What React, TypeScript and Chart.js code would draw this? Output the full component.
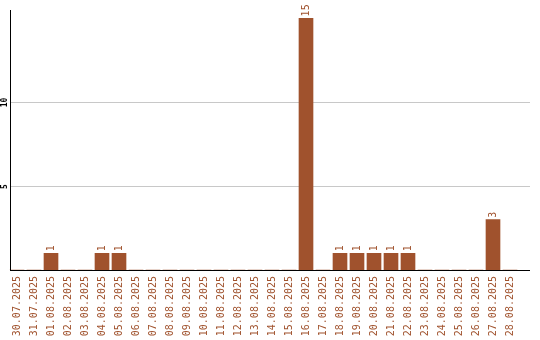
import React, { useEffect, useRef } from "react";
import { Chart, registerables } from "chart.js";

Chart.register(...registerables);

const categories: string[] = [
  "30.07.2025", "31.07.2025", "01.08.2025", "02.08.2025", "03.08.2025",
  "04.08.2025", "05.08.2025", "06.08.2025", "07.08.2025", "08.08.2025",
  "09.08.2025", "10.08.2025", "11.08.2025", "12.08.2025", "13.08.2025",
  "14.08.2025", "15.08.2025", "16.08.2025", "17.08.2025", "18.08.2025",
  "19.08.2025", "20.08.2025", "21.08.2025", "22.08.2025", "23.08.2025",
  "24.08.2025", "25.08.2025", "26.08.2025", "27.08.2025", "28.08.2025",
];
const counts: number[] = [
  0, 0, 1, 0, 0, 1, 1, 0, 0, 0,
  0, 0, 0, 0, 0, 0, 0, 15, 0, 1,
  1, 1, 1, 1, 0, 0, 0, 0, 3, 0,
];
const yTicks: number[] = [5, 10];

const BROWN = "#a0522d";
const MONO = "'DejaVu Sans Mono', monospace";

const decorPlugin = {
  id: "decor",
  beforeDatasetsDraw(chart: any) {
    const ctx = chart.ctx;
    const y = chart.scales.y;
    ctx.save();
    ctx.strokeStyle = "#c8c8c8";
    ctx.lineWidth = 1;
    for (const t of yTicks) {
      const py = Math.round(y.getPixelForValue(t)) + 0.5;
      ctx.beginPath();
      ctx.moveTo(10, py);
      ctx.lineTo(530, py);
      ctx.stroke();
      ctx.save();
      ctx.translate(4.5, py);
      ctx.rotate(-Math.PI / 2);
      ctx.fillStyle = "#000";
      ctx.font = "bold 8px " + MONO;
      ctx.textAlign = "center";
      ctx.textBaseline = "middle";
      ctx.fillText(String(t), 0, 0);
      ctx.restore();
    }
    ctx.restore();
  },
  afterDatasetsDraw(chart: any) {
    const ctx = chart.ctx;
    const y = chart.scales.y;
    const area = chart.chartArea;
    const zeroY = Math.round(y.getPixelForValue(0)) + 0.5;
    ctx.save();
    ctx.strokeStyle = "#000";
    ctx.lineWidth = 1;
    ctx.beginPath();
    ctx.moveTo(10.5, area.top);
    ctx.lineTo(10.5, zeroY);
    ctx.moveTo(10, zeroY);
    ctx.lineTo(530, zeroY);
    ctx.stroke();

    const meta = chart.getDatasetMeta(0);
    ctx.fillStyle = BROWN;
    ctx.font = "10px " + MONO;
    ctx.textAlign = "left";
    ctx.textBaseline = "middle";
    meta.data.forEach((bar: any, i: number) => {
      const v = counts[i];
      if (!v) return;
      ctx.save();
      ctx.translate(bar.x, bar.y - 2);
      ctx.rotate(-Math.PI / 2);
      ctx.fillText(String(v), 0, 0);
      ctx.restore();
    });
    ctx.restore();
  },
};

export default function App() {
  const ref = useRef<HTMLCanvasElement | null>(null);
  useEffect(() => {
    if (!ref.current) return;
    const chart = new Chart(ref.current, {
      type: "bar",
      data: {
        labels: categories,
        datasets: [
          {
            data: counts,
            backgroundColor: BROWN,
            borderWidth: 0,
            barThickness: 14,
          },
        ],
      },
      options: {
        animation: false,
        responsive: false,
        layout: { padding: { left: 8.5, right: 21.5, top: 10, bottom: 0 } },
        plugins: { legend: { display: false }, tooltip: { enabled: false } },
        scales: {
          x: {
            offset: true,
            grid: { display: false, drawTicks: false },
            border: { display: false },
            ticks: {
              minRotation: 90,
              maxRotation: 90,
              autoSkip: false,
              padding: 6,
              color: BROWN,
              font: { family: MONO, size: 10 },
            },
            afterFit(scale: any) {
              scale.height = 70;
            },
          },
          y: {
            display: false,
            min: 0,
            max: 15.5,
          },
        },
      },
      plugins: [decorPlugin],
    });
    return () => chart.destroy();
  }, []);
  return (
    <div style={{ position: "fixed", left: 0, top: 0, width: 540, height: 340, background: "#fff" }}>
      <canvas ref={ref} width={540} height={340} />
    </div>
  );
}
